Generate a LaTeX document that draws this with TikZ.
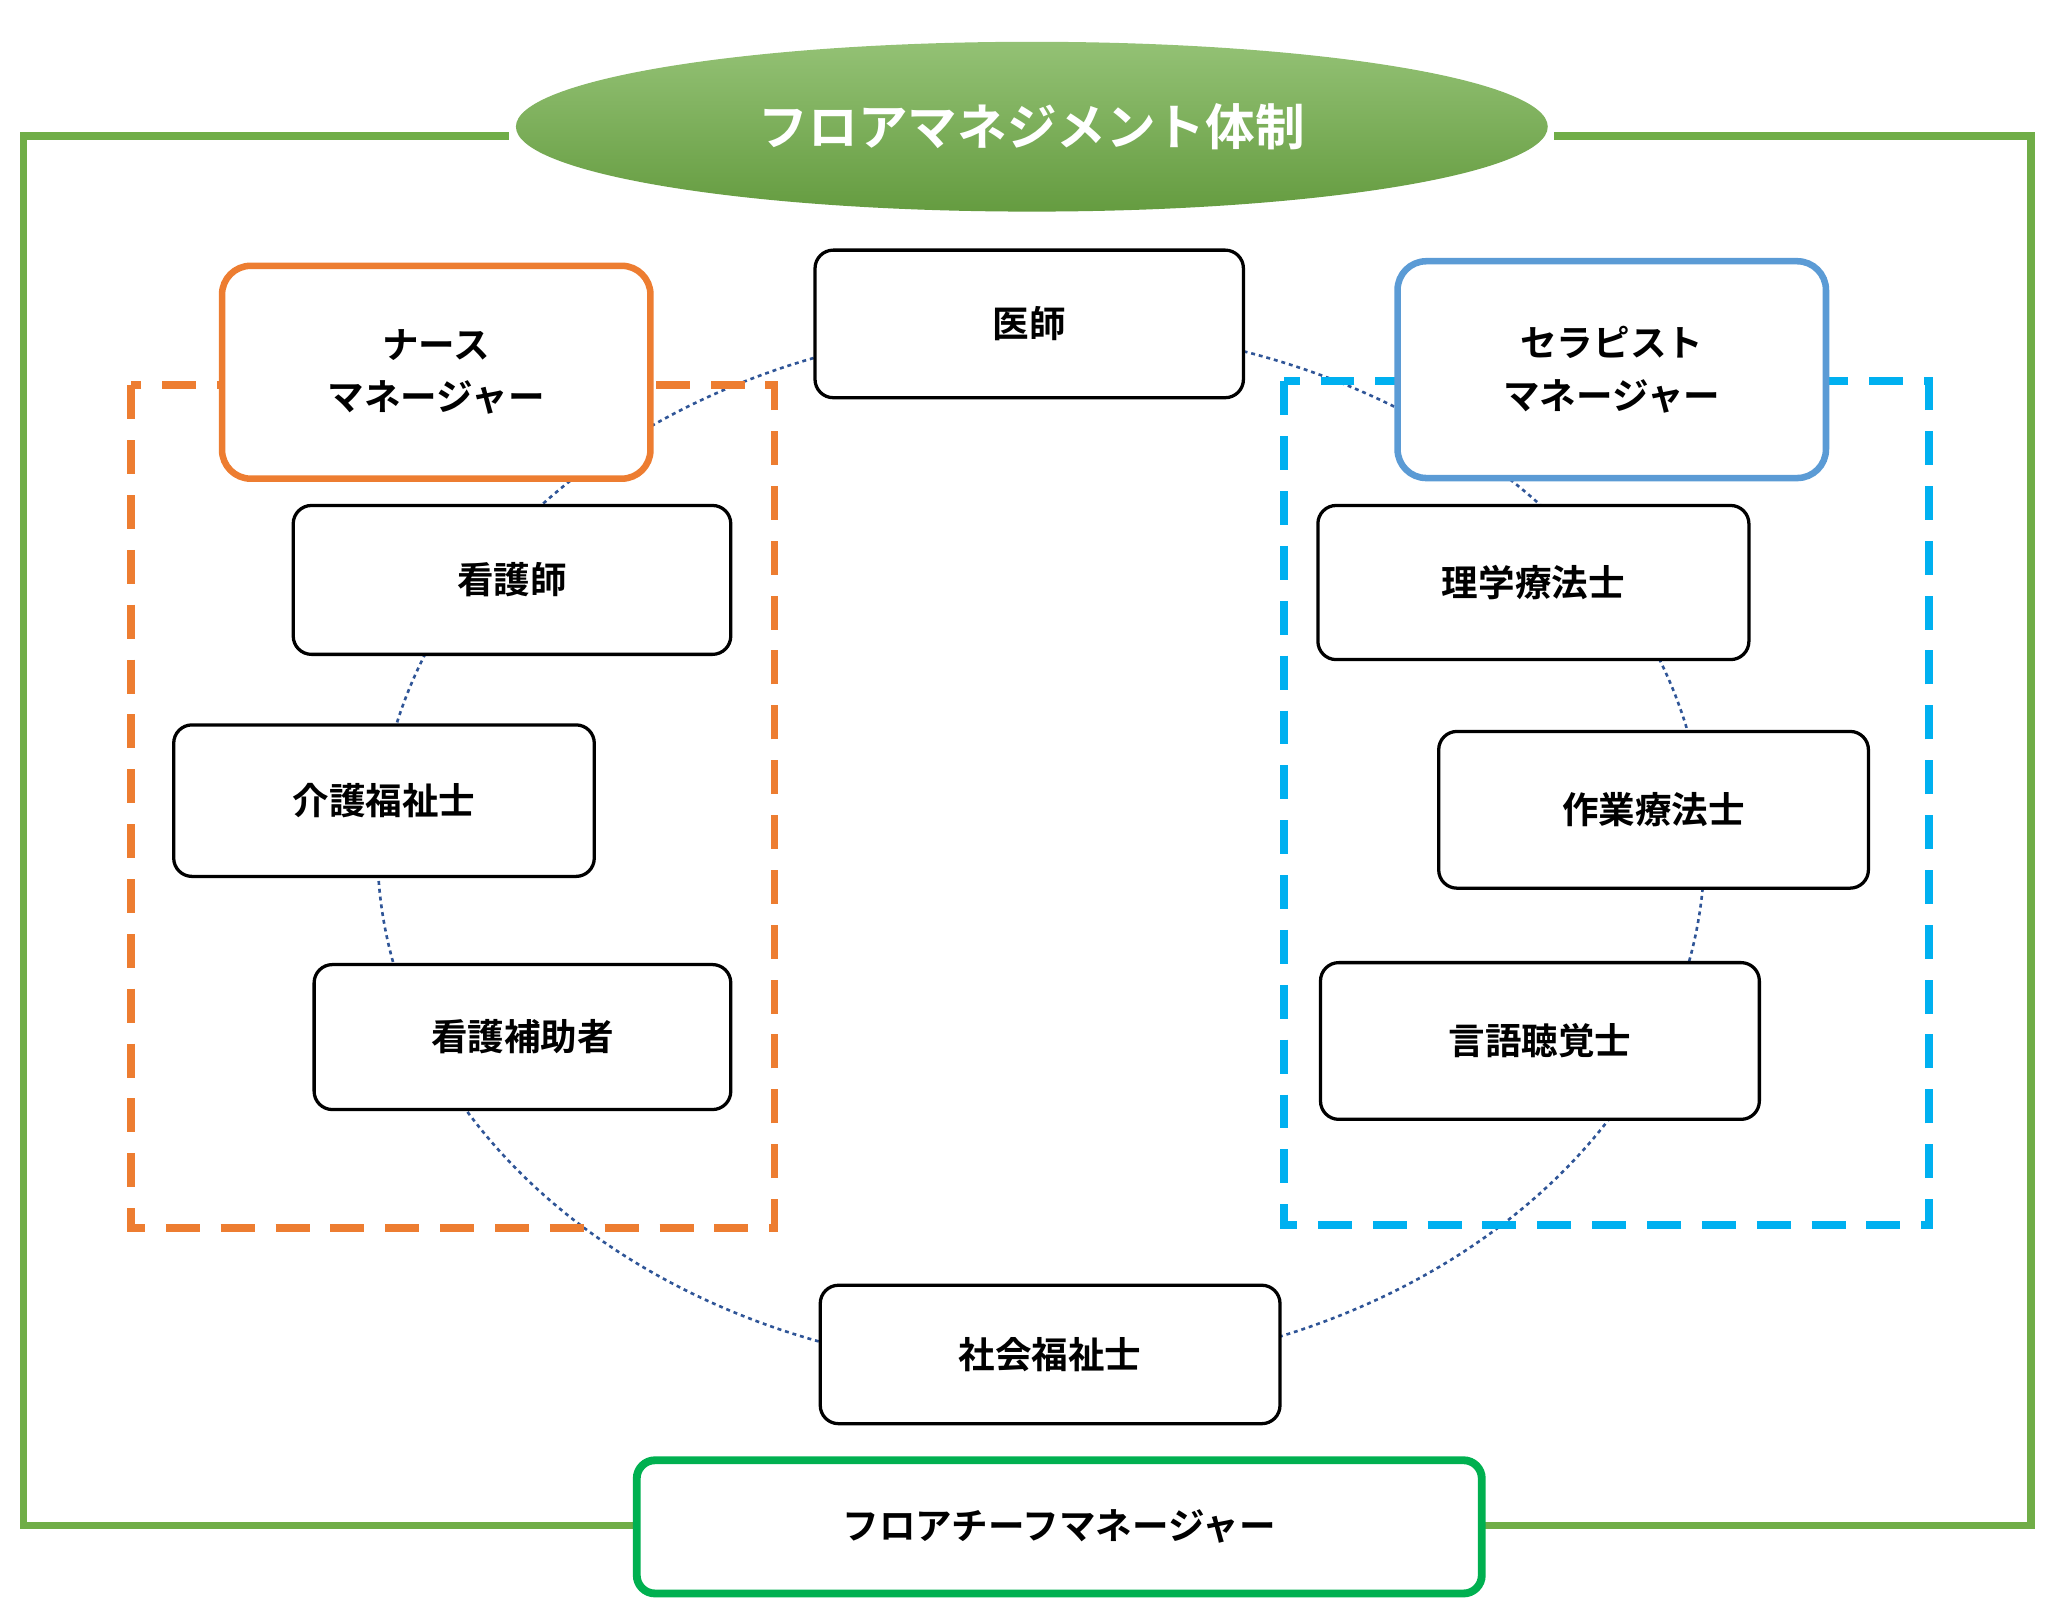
\documentclass[tikz,border=0pt]{standalone}
\usepackage{fontspec}
\newfontfamily\jp{Noto Sans CJK JP Bold}
\usetikzlibrary{shadings}
\definecolor{grn}{HTML}{70AD47}
\definecolor{org}{HTML}{ED7D31}
\definecolor{sky}{HTML}{00B0F0}
\definecolor{blu}{HTML}{5B9BD5}
\definecolor{cgr}{HTML}{00B050}
\definecolor{nav}{HTML}{2F5597}
\begin{document}
\begin{tikzpicture}[x=1pt,y=-1pt,
  box/.style={draw=black,line width=2.5pt,rounded corners=14pt,fill=white,font=\jp\fontsize{28}{40}\selectfont,align=center},
  grp/.style={line width=6pt,dash pattern=on 26pt off 16pt}]
\useasboundingbox (0,0) rectangle (1568,1230);
\draw[grn,line width=6pt] (18,104) rectangle (1555,1168);
\draw[nav,line width=2pt,dashed] (797,650) ellipse [x radius=508, y radius=400];
\draw[grp,org] (100,295) rectangle (593,940);
\draw[grp,sky] (983,292) rectangle (1477,938);
\fill[white] (390,95) rectangle (1190,165);
\shade[top color=grn!75!white,bottom color=grn!90!black] (790,97) ellipse [x radius=395, y radius=65];
\node[text=white,font=\jp\fontsize{38}{46}\selectfont] (title) at (790,97) {フロアマネジメント体制};
\node[box,draw=org,line width=5pt,minimum width=328pt,minimum height=163pt,rounded corners=22pt] (nm) at (334,285) {ナース\\マネージャー};
\node[box,draw=blu,line width=5pt,minimum width=328pt,minimum height=166pt,rounded corners=22pt] (tm) at (1234,283) {セラピスト\\マネージャー};
\node[box,minimum width=328pt,minimum height=113pt] (dr) at (788,248) {医師};
\node[box,minimum width=335pt,minimum height=114pt] (ns) at (392,444) {看護師};
\node[box,minimum width=322pt,minimum height=116pt] (cw) at (294,613) {介護福祉士};
\node[box,minimum width=319pt,minimum height=111pt] (na) at (400,794) {看護補助者};
\node[box,minimum width=330pt,minimum height=118pt] (pt) at (1174,446) {理学療法士};
\node[box,minimum width=329pt,minimum height=120pt] (ot) at (1266,620) {作業療法士};
\node[box,minimum width=336pt,minimum height=120pt] (st) at (1179,797) {言語聴覚士};
\node[box,minimum width=352pt,minimum height=106pt] (sw) at (804,1037) {社会福祉士};
\node[box,draw=cgr,line width=6pt,minimum width=647pt,minimum height=102pt] (fc) at (811,1169) {フロアチーフマネージャー};
\end{tikzpicture}
\end{document}
